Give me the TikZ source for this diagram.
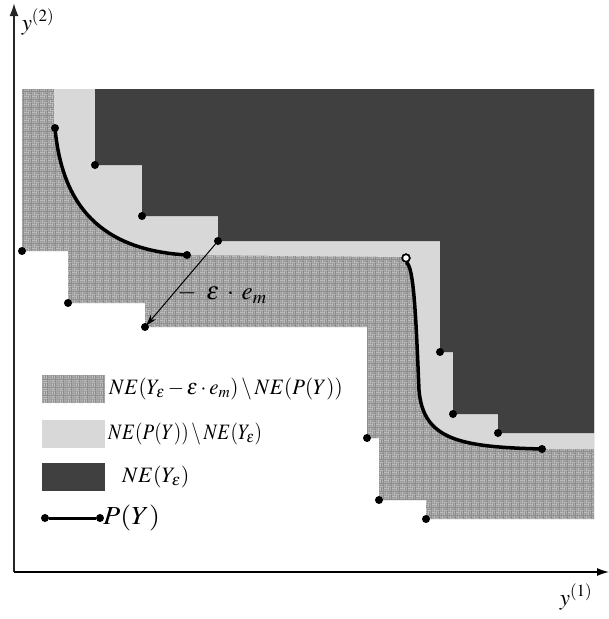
\documentclass[tikz,border=0pt]{standalone}
\usepackage{mathptmx}
\usetikzlibrary{arrows.meta,patterns}
\definecolor{darkfill}{HTML}{404040}
\definecolor{lightfill}{HTML}{D8D8D8}
\definecolor{texbase}{HTML}{8C8C8C}
\definecolor{texline}{HTML}{BEBEBE}
\pgfdeclarepatternformonly{weave}{\pgfpointorigin}{\pgfpoint{8pt}{8pt}}{\pgfpoint{8pt}{8pt}}{%
  \pgfsetlinewidth{1pt}%
  \pgfpathmoveto{\pgfpoint{0pt}{1pt}}\pgfpathlineto{\pgfpoint{4pt}{1pt}}%
  \pgfpathmoveto{\pgfpoint{0pt}{3pt}}\pgfpathlineto{\pgfpoint{4pt}{3pt}}%
  \pgfpathmoveto{\pgfpoint{5pt}{0pt}}\pgfpathlineto{\pgfpoint{5pt}{4pt}}%
  \pgfpathmoveto{\pgfpoint{7pt}{0pt}}\pgfpathlineto{\pgfpoint{7pt}{4pt}}%
  \pgfpathmoveto{\pgfpoint{1pt}{4pt}}\pgfpathlineto{\pgfpoint{1pt}{8pt}}%
  \pgfpathmoveto{\pgfpoint{3pt}{4pt}}\pgfpathlineto{\pgfpoint{3pt}{8pt}}%
  \pgfpathmoveto{\pgfpoint{4pt}{5pt}}\pgfpathlineto{\pgfpoint{8pt}{5pt}}%
  \pgfpathmoveto{\pgfpoint{4pt}{7pt}}\pgfpathlineto{\pgfpoint{8pt}{7pt}}%
  \pgfusepath{stroke}%
}
\begin{document}
\begin{tikzpicture}[x=1pt,y=-1pt,
  dot/.style={circle,fill=black,inner sep=0pt,minimum size=8pt},
  odot/.style={circle,draw=black,fill=white,line width=1.6pt,inner sep=0pt,minimum size=7.5pt},
  pcurve/.style={line width=3.5pt},
  texfill/.style={fill=texbase,postaction={pattern=weave,pattern color=texline}},
  lightarea/.style={fill=lightfill},
  darkarea/.style={fill=darkfill},
  legtext/.style={anchor=west,inner sep=0pt,font=\fontsize{22}{26}\selectfont},
  axlab/.style={inner sep=0pt,font=\fontsize{23}{27}\selectfont}
]
\useasboundingbox (0,0) rectangle (609,619);

% NE(Y_eps - eps e_m) (textured, outer staircase)
\fill[texfill] (22,89) -- (594,89) -- (594,519) -- (426,519) -- (426,500) -- (379,500)
  -- (379,438) -- (367,438) -- (367,327) -- (145,327) -- (145,303) -- (68,303)
  -- (68,251) -- (22,251) -- cycle;

% NE(P(Y)) (light gray)
\fill[lightarea] (54,89) -- (54,128) .. controls (62,205) and (100,250) .. (187,255)
  -- (406,257) .. controls (414,262) and (416,320) .. (419,390)
  .. controls (423,440) and (460,447) .. (542,449) -- (594,449) -- (594,89) -- cycle;

% NE(Y_eps) (dark)
\fill[darkarea] (95,89) -- (95,165) -- (142,165) -- (142,216) -- (218,216) -- (218,241)
  -- (440,241) -- (440,352) -- (453,352) -- (453,414) -- (498,414) -- (498,433)
  -- (594,433) -- (594,89) -- cycle;

% points of Y_eps
\node[dot] (e1) at (95,165) {};
\node[dot] (e2) at (142,216) {};
\node[dot] (e3) at (218,241) {};
\node[dot] (e4) at (440,352) {};
\node[dot] (e5) at (453,414) {};
\node[dot] (e6) at (498,433) {};
% points of Y_eps - eps e_m
\node[dot] (s1) at (22,251) {};
\node[dot] (s2) at (68,303) {};
\node[dot] (s3) at (145,327) {};
\node[dot] (s4) at (367,438) {};
\node[dot] (s5) at (379,500) {};
\node[dot] (s6) at (426,519) {};

% P(Y)
\node[dot] (c1s) at (55,128) {};
\node[dot] (c1e) at (187,255) {};
\node[odot] (c2s) at (406,258) {};
\node[dot] (c2e) at (542,449) {};
\coordinate (c2m) at (419,390);
\draw[pcurve] (c1s.center) .. controls (62,205) and (100,250) .. (c1e.center);
\draw[pcurve] (c2s.south) .. controls (414,264) and (416,320) .. (c2m)
  .. controls (423,440) and (460,447) .. (c2e.center);
\node[odot] at (c2s) {};

% shift arrow
\draw[line width=1pt,-{Stealth[length=11pt,width=7pt]},shorten >=2pt] (e3.center) -- (s3.center);
\node[inner sep=0pt,font=\fontsize{25}{29}\selectfont] (shift) at (222,294)
  {$-\mkern7mu\varepsilon\mkern3mu\cdot\mkern3mu e_{m}$};

% axes
\coordinate (O) at (14,572);
\coordinate (ytop) at (14,3);
\coordinate (xend) at (609,572);
\draw[line width=2pt,draw=black!85,-{Latex[length=13pt,width=9pt]}] (O) -- (ytop);
\draw[line width=1.3pt,-{Latex[length=12pt,width=8pt]}] (O) -- (xend);
\node[axlab] (ylab2) at (38,22) {$y^{(2)}$};
\node[axlab] (ylab1) at (576,597) {$y^{(1)}$};

% legend
\fill[texfill] (42,375) rectangle (105,403);
\node[legtext,xscale=0.95] (l1) at (109,389) {$NE(Y_\varepsilon-\varepsilon\cdot e_m)\setminus NE(P(Y))$};
\fill[lightarea] (42,420) rectangle (105,448);
\node[legtext,xscale=0.87] (l2) at (108,434) {$NE(P(Y))\setminus NE(Y_\varepsilon)$};
\fill[darkarea] (42,463) rectangle (105,491);
\node[legtext] (l3) at (122,477) {$NE(Y_\varepsilon)$};
\node[dot] (la) at (45,518) {};
\node[dot] (lb) at (100,518) {};
\draw[line width=3pt] (la) -- (lb);
\node[legtext,font=\fontsize{26}{30}\selectfont,xscale=1.08] (l4) at (103,518) {$P(Y)$};
\end{tikzpicture}
\end{document}
